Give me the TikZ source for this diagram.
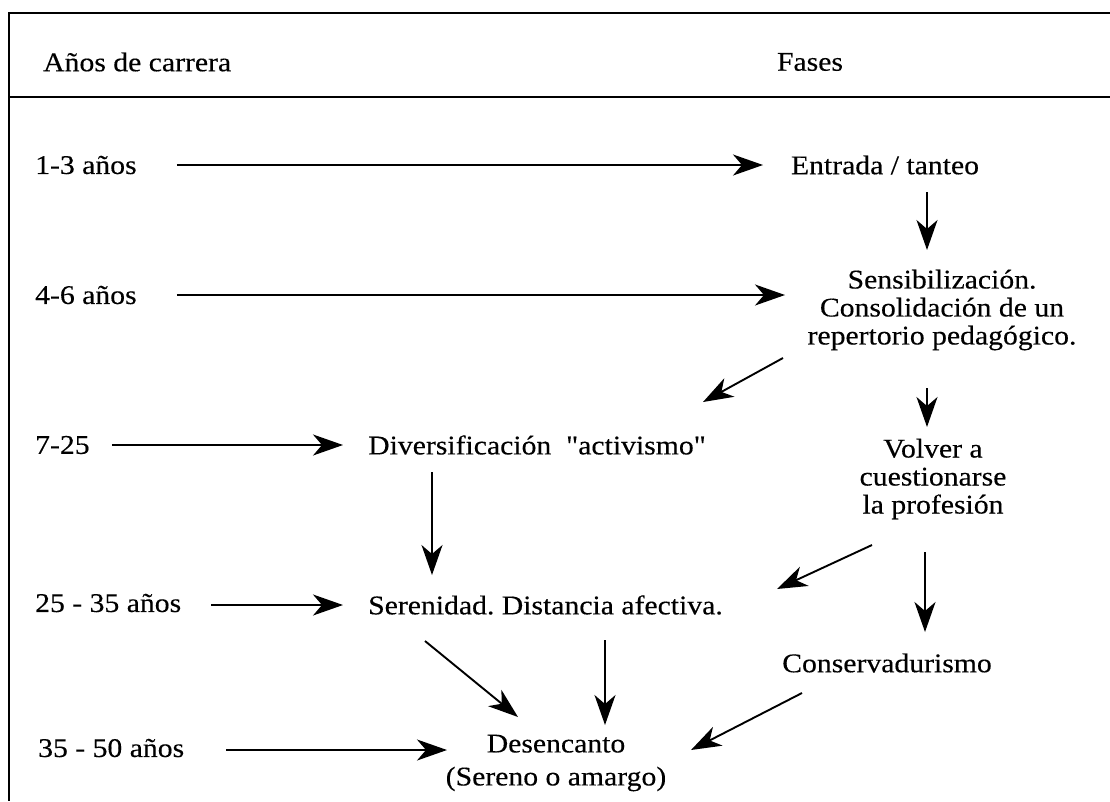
\documentclass[tikz,border=0pt]{standalone}
\usepackage{fontspec}
\setmainfont{Liberation Serif}[FakeStretch=1.1,FakeBold=0.3]
\usetikzlibrary{arrows.meta}
\frenchspacing
\begin{document}
\begin{tikzpicture}[x=1pt,y=-1pt,
  txt/.style={inner sep=0pt,font=\fontsize{27}{28}\selectfont,text=black},
  lab/.style={txt,anchor=west},
  phase/.style={txt,align=center},
  arr/.style={line width=1.9pt,-{Stealth[length=30pt,width=21pt,inset=9pt]}},
  frame/.style={line width=2.2pt}]
\useasboundingbox (0,0) rectangle (1110,801);
\fill[white] (0,0) rectangle (1110,801);
% frame
\draw[frame] (1110,13) -- (9,13) -- (9,801);
\draw[frame] (9,97) -- (1110,97);
% header
\node[lab] (hA) at (43,62) {Años de carrera};
\node[txt] (hF) at (810,62) {Fases};
% year labels
\node[lab] (y1) at (35,165) {1-3 años};
\node[lab] (y2) at (35,295) {4-6 años};
\node[lab] (y3) at (35,445) {7-25};
\node[lab] (y4) at (35,603) {25 - 35 años};
\node[lab] (y5) at (38,748) {35 - 50 años};
% phases
\node[phase] (f1) at (885,165) {Entrada / tanteo};
\node[phase] (f2) at (942,310) {Sensibilización.\\Consolidación de un\\repertorio pedagógico.};
\node[lab] (f3) at (368,445) {Diversificación\ \ {\addfontfeatures{Ligatures=TeXOff}"activismo"}};
\node[phase] (f4) at (933,479) {Volver a\\cuestionarse\\la profesión};
\node[lab] (f5) at (368,605) {Serenidad. Distancia afectiva.};
\node[phase] (f6) at (887,663) {Conservadurismo};
\node[phase,font=\fontsize{27}{33}\selectfont] (f7) at (556,763) {Desencanto\\(Sereno o amargo)};
% horizontal arrows
\draw[arr] ([shift={(40,0)}]y1.east) -- ([shift={(-122,0)}]f1.center);
\draw[arr] ([shift={(40,0)}]y2.east) -- ([shift={(-157,-15)}]f2.center);
\draw[arr] ([shift={(22,0)}]y3.east) -- ([shift={(-25,0)}]f3.west);
\draw[arr] ([shift={(30,2)}]y4.east) -- ([shift={(-25,0)}]f5.west);
\draw[arr] ([shift={(42,2)}]y5.east) -- ([shift={(-109,-13)}]f7.center);
% phase arrows
\draw[arr] ([shift={(42,27)}]f1.center) -- ([shift={(-15,-60)}]f2.center);
\draw[arr] ([shift={(-15,78)}]f2.center) -- ([shift={(-6,-52)}]f4.center);
\draw[arr] ([shift={(-159,48)}]f2.center) -- ([shift={(335,-43)}]f3.west);
\draw[arr] ([shift={(-61,66)}]f4.center) -- ([shift={(409,-16)}]f5.west);
\draw[arr] ([shift={(-8,73)}]f4.center) -- ([shift={(38,-31)}]f6.center);
\draw[arr] ([shift={(64,27)}]f3.west) -- ([shift={(64,-30)}]f5.west);
\draw[arr] ([shift={(57,36)}]f5.west) -- ([shift={(-38,-46)}]f7.center);
\draw[arr] ([shift={(237,35)}]f5.west) -- ([shift={(49,-38)}]f7.center);
\draw[arr] ([shift={(-85,30)}]f6.center) -- ([shift={(135,-13)}]f7.center);
\end{tikzpicture}
\end{document}
